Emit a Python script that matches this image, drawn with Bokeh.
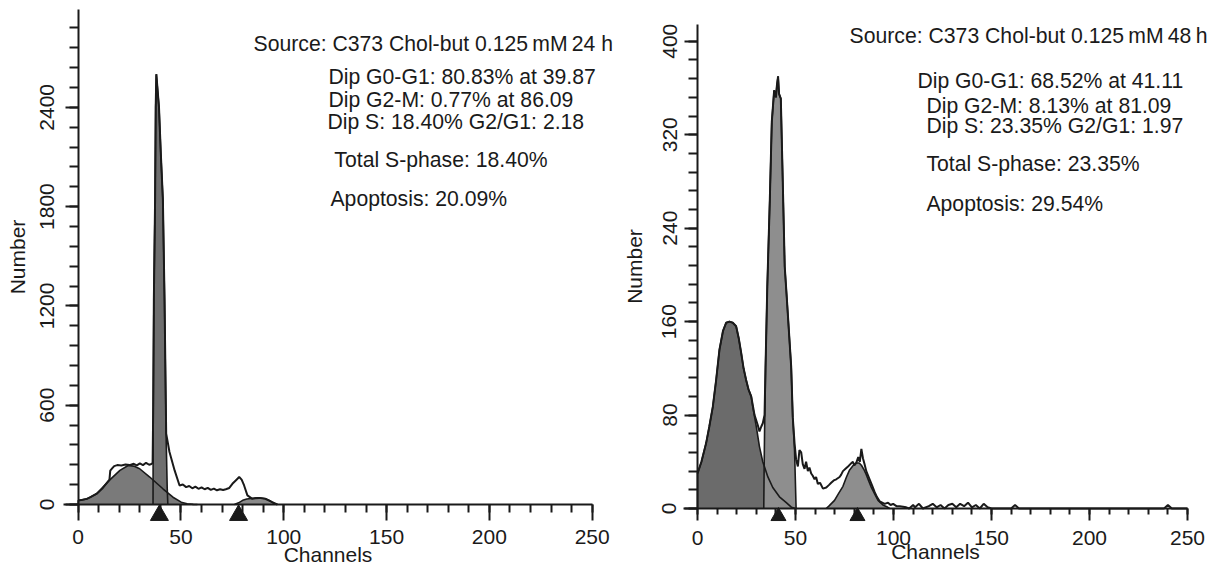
from bokeh.plotting import figure
from bokeh.models import Range1d, SingleIntervalTicker, Label
from bokeh.layouts import row
from bokeh.embed import file_html
from bokeh.resources import INLINE

FONT = "Liberation Sans"
INK = "#1a1a1a"

# ---------------- Left panel: C373 Chol-but 0.125 mM 24 h ----------------
left_total_x = [0, 2, 4.2, 6, 9, 12, 15.2, 15.6, 16.5, 17.5, 19, 21, 23, 25, 27, 28.5, 30, 31.5, 33, 34.5,
                35.6, 36.2, 36.5, 36.8, 37.4, 37.7, 38.0, 39.3, 40.2, 41.2, 42.0, 42.8, 44.4, 46.9, 49.3,
                50.9, 52.5, 54, 55.5, 57, 58.5, 60, 61.5, 63, 64.5, 66, 67.5, 69, 70.5, 71.8, 73.5, 75,
                77, 78.3, 79.5, 80.7, 82.3, 84.7, 86, 88, 91, 94.4, 96.8]
left_total_y = [24, 28, 34, 45, 65, 100, 150, 205, 218, 232, 238, 236, 242, 238, 246, 236, 248, 238, 252, 240,
                245, 250, 600, 1236, 1842, 2400, 2600, 2400, 2118, 1842, 1236, 428, 317, 206, 115,
                121, 105, 112, 98, 108, 95, 104, 92, 100, 88, 96, 86, 92, 88, 92, 100, 125,
                150, 166, 150, 115, 55, 34, 38, 40, 34, 14, 0]

left_apo_x = [0, 0, 4.2, 9, 15.5, 20.3, 24.3, 27, 29.9, 34.8, 41.2, 46.1, 50.1, 53, 56, 58]
left_apo_y = [0, 24, 34, 65, 150, 206, 236, 232, 216, 166, 95, 44, 14, 5, 1, 0]

left_g1_x = [36.4, 36.5, 36.8, 37.4, 37.7, 38.0, 39.3, 40.2, 41.2, 42.0, 42.8, 43.3, 43.6]
left_g1_y = [0, 600, 1236, 1842, 2400, 2600, 2400, 2118, 1842, 1236, 388, 100, 0]

left_g2_x = [76, 78, 80, 82, 85, 88, 91, 93, 95, 97]
left_g2_y = [0, 10, 25, 33, 38, 40, 36, 25, 8, 0]

left_markers = [39.5, 78]

left_texts = ["Source: C373 Chol-but 0.125\u2009mM\u200924 h",
              "Dip G0-G1: 80.83% at 39.87",
              "Dip G2-M: 0.77% at 86.09",
              "Dip S: 18.40% G2/G1: 2.18",
              "Total S-phase: 18.40%",
              "Apoptosis: 20.09%"]

# ---------------- Right panel: C373 Chol-but 0.125 mM 48 h ----------------
right_total_x = [0, 2, 4.4, 6, 7.8, 9.5, 11.2, 13, 14.6, 16.3, 18, 19.7, 21, 22.3, 23.5, 24.8, 26, 27.4,
                 29.1, 30.8, 31.6, 32.5, 33.3, 34.2, 34.7, 35.6, 36.9, 37.9, 39.1, 40.0, 40.5, 41.1, 41.6,
                 42.5, 43.3, 44.5, 45.6, 47.8, 48.6, 49.5, 50.3, 51.2, 52, 52.9, 53.7, 54.6, 55.4, 56.3,
                 57.1, 58, 58.8, 59.7, 60.5, 61.4, 62.5, 64, 65.7, 67, 68.2, 69.5, 70.8, 72.5, 73.3, 74.2,
                 75.5, 76.8, 78, 79.3, 80, 81, 82, 82.8, 83.6, 84.4, 85.2, 86.1, 87.8, 89, 90.4, 91.5, 93,
                 95.5, 97.2, 98.5, 99.8, 101.5, 103.2, 106.5, 108, 110, 111, 113, 115, 118, 120, 122, 124,
                 126, 128, 130, 132, 134, 136, 138, 140, 142, 144, 146, 148, 150, 160, 162, 164, 238, 240,
                 242, 250]
right_total_y = [30, 40, 56, 70, 87, 110, 136, 152, 159, 160, 159, 156, 146, 133, 120, 110, 102, 96,
                 80, 71, 66, 70, 73, 80, 121, 190, 265, 331, 358, 352, 362, 370, 355,
                 351, 294, 207, 179, 121, 78, 56, 42, 36, 50, 48, 38, 34, 40, 32,
                 35, 30, 28, 25, 27, 21, 22, 17, 18, 20, 22, 24, 25, 27, 29, 32,
                 34, 36, 38, 40, 37, 39, 44, 40, 51, 43, 38, 32, 25, 20, 14, 10, 6,
                 4, 5, 3, 4, 2, 2, 1, 0, 3, 1, 4, 0, 2, 4, 1, 3,
                 0, 3, 4, 1, 4, 2, 5, 1, 3, 0, 4, 1, 0, 0, 3, 0, 0, 3,
                 0, 0]

right_apo_x = [0, 0, 2, 4.4, 6, 7.8, 9.5, 11.2, 13, 14.6, 16.3, 18, 19.7, 21, 22.3, 23.5, 24.8, 26, 27.4,
               28.2, 30, 31.6, 33.3, 35.9, 38.4, 41.8, 45.3, 48, 50]
right_apo_y = [0, 30, 40, 56, 70, 87, 110, 136, 152, 159, 160, 159, 156, 146, 133, 120, 110, 102, 96,
               87, 70, 53, 40, 27, 18, 10, 5, 1, 0]

right_g1_x = [33.8, 34.0, 34.2, 34.7, 35.6, 36.9, 37.9, 39.1, 40.0, 40.5, 41.1, 41.6, 42.5, 43.3, 44.5,
              45.6, 47.8, 48.6, 49.5, 50.3]
right_g1_y = [0, 36, 64, 121, 190, 265, 331, 358, 352, 362, 370, 355, 351, 294, 207,
              179, 121, 78, 50, 0]

right_g2_x = [65.6, 67, 69.9, 72, 74.2, 76, 77.6, 79.5, 81, 82.5, 83.6, 85, 86.1, 87.5, 88.7, 90.5, 92.1,
              94.6, 97.1, 98]
right_g2_y = [0, 2, 7, 13, 19, 27, 33, 37, 39, 39, 37, 33, 29, 23, 18, 12, 7, 3, 1, 0]

right_markers = [41.3, 81.6]

right_texts = ["Source: C373 Chol-but 0.125\u2009mM\u200948\u2009h",
               "Dip G0-G1: 68.52% at 41.11",
               "Dip G2-M: 8.13% at 81.09",
               "Dip S: 23.35% G2/G1: 1.97",
               "Total S-phase: 23.35%",
               "Apoptosis: 29.54%"]

x_label = "Channels"
y_label = "Number"

FIG_H = 570


def make_panel(width, xr, yr, ybounds, ytick, total, comps, markers, marker_y, marker_size,
               texts, text_pos, xtick_out, xminor_out, xlab_standoff, xaxlab_standoff,
               ylab_standoff, yaxlab_standoff):
    p = figure(width=width, height=FIG_H, output_backend="svg", toolbar_location=None,
               x_range=Range1d(*xr), y_range=Range1d(*yr),
               min_border_left=0, min_border_right=0, min_border_top=0, min_border_bottom=0)
    p.outline_line_color = None
    p.xgrid.visible = False
    p.ygrid.visible = False
    p.background_fill_color = "white"

    for (cx, cy, col) in comps:
        p.patch(cx, cy, fill_color=col, line_color=None)
    for (cx, cy, col) in comps:
        p.line(cx, cy, line_color=INK, line_width=1.6)
    p.line(total[0], total[1], line_color=INK, line_width=2)

    p.scatter(markers, [marker_y] * len(markers), marker="triangle", size=marker_size,
              fill_color=INK, line_color=INK)

    for t, (tx, ty) in zip(texts, text_pos):
        p.add_layout(Label(x=tx, y=ty, text=t, text_font=FONT, text_font_size="21.2px",
                           text_color=INK, text_baseline="middle", text_align="left"))

    xa = p.xaxis[0]
    ya = p.yaxis[0]
    xa.fixed_location = 0
    ya.fixed_location = 0
    xa.bounds = (-7, 250)
    ya.bounds = ybounds
    xa.ticker = SingleIntervalTicker(interval=50, num_minor_ticks=5)
    ya.ticker = SingleIntervalTicker(interval=ytick, num_minor_ticks=5)
    for ax in (xa, ya):
        ax.axis_line_color = INK
        ax.axis_line_width = 2
        ax.major_tick_line_color = INK
        ax.minor_tick_line_color = INK
        ax.major_tick_line_width = 2
        ax.minor_tick_line_width = 2
        ax.major_tick_in = 0
        ax.minor_tick_in = 0
        ax.major_label_text_font = FONT
        ax.major_label_text_font_size = "21px"
        ax.major_label_text_color = INK
        ax.axis_label_text_font = FONT
        ax.axis_label_text_font_size = "21px"
        ax.axis_label_text_font_style = "normal"
        ax.axis_label_text_color = INK
    xa.major_tick_out = xtick_out
    xa.minor_tick_out = xminor_out
    ya.major_tick_out = 13
    ya.minor_tick_out = 9
    xa.axis_label = x_label
    ya.axis_label = y_label
    xa.major_label_standoff = xlab_standoff
    xa.axis_label_standoff = xaxlab_standoff
    ya.major_label_orientation = "vertical"
    ya.major_label_standoff = ylab_standoff
    ya.axis_label_standoff = yaxlab_standoff
    return p


# Left: y-axis at 77.7 px, 2.056 px/unit ; x-axis at 504 px, 0.1655 px/unit
left_pos = [(85.3, 2785), (121.7, 2586), (121.7, 2447), (121.2, 2314), (124.6, 2085), (122.7, 1849)]
p1 = make_panel(620, (-37.79, 263.77), (-398.8, 3045.3), (0, 2990), 600,
                (left_total_x, left_total_y),
                [(left_apo_x, left_apo_y, "#7a7a7a"),
                 (left_g1_x, left_g1_y, "#6f6f6f"),
                 (left_g2_x, left_g2_y, "#8a8a8a")],
                left_markers, -65, 18, left_texts, left_pos, 16, 8, 10, -5, 11, 9)

# Right: y-axis at 697 px, 1.96 px/unit ; x-axis at 508 px, 1.168 px/unit
right_pos = [(77.6, 405), (112.2, 366.4), (116.8, 345), (116.8, 327.9), (116.8, 295.4), (116.8, 261.1)]
p2 = make_panel(588, (-39.29, 260.7), (-53.08, 434.9), (0, 414), 80,
                (right_total_x, right_total_y),
                [(right_apo_x, right_apo_y, "#6b6b6b"),
                 (right_g1_x, right_g1_y, "#8e8e8e"),
                 (right_g2_x, right_g2_y, "#8e8e8e")],
                right_markers, -6.6, 15, right_texts, right_pos, 12, 6, 11, -9, 8, 14)

layout = row(p1, p2)
open("out.html", "w").write(file_html(layout, INLINE))
